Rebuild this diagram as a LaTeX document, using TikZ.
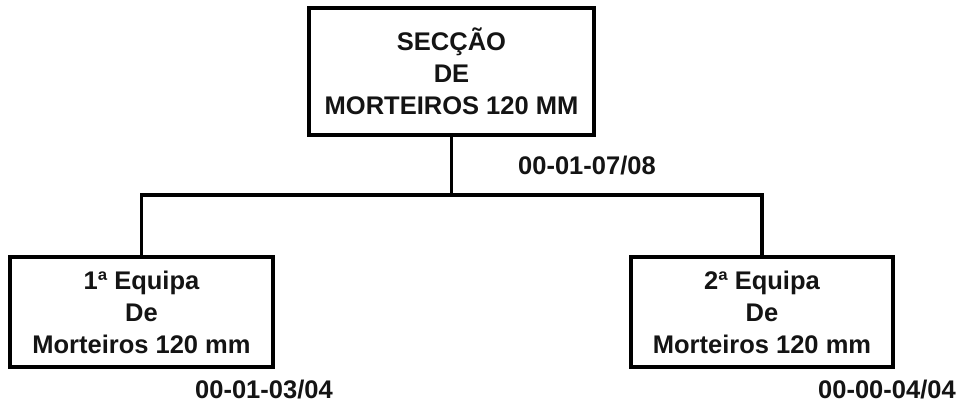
\documentclass[tikz,border=0pt]{standalone}
\usepackage{fontspec}
\setmainfont{Liberation Sans}
\begin{document}
\begin{tikzpicture}[x=1pt,y=-1pt,
  box/.style={draw=black,line width=3.5pt,fill=white,inner sep=0pt,align=center,
    font=\fontsize{25.5}{32}\selectfont\bfseries,text=black!92},
  code/.style={inner sep=0pt,font=\fontsize{25.5}{32}\selectfont\bfseries,text=black!92,anchor=west},
  link/.style={line width=3.5pt,black}]
\useasboundingbox[fill=white] (0,0) rectangle (969,407);
\node[box,minimum width=285pt,minimum height=127pt] (top) at (451.5,71.5) {SECÇÃO\\DE\\MORTEIROS 120 MM};
\node[box,minimum width=263pt,minimum height=110pt] (left) at (141.5,312) {1ª Equipa\\De\\Morteiros 120 mm};
\node[box,minimum width=262pt,minimum height=110pt] (right) at (762,312) {2ª Equipa\\De\\Morteiros 120 mm};
\coordinate (mid) at (451.5,195);
\draw[link] (top.south) -- (mid);
\draw[link] (left.north) |- (mid) -| (right.north);
\node[code] (c1) at (518,166) {00-01-07/08};
\node[code] (c2) at (195,390) {00-01-03/04};
\node[code] (c3) at (818,390) {00-00-04/04};
\end{tikzpicture}
\end{document}
